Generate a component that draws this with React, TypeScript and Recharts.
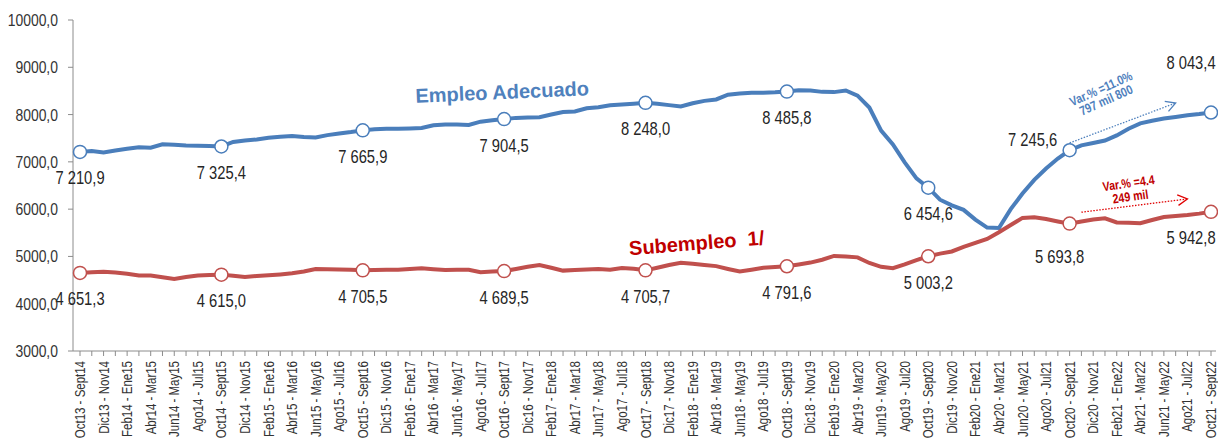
import React from 'react';
import { LineChart, Line, XAxis, YAxis, ReferenceDot, ReferenceLine } from 'recharts';

const periods: string[] = [
  'Oct13 - Sept14', 'Nov13 - Oct14', 'Dic13 - Nov14', 'Ene14 - Dic14', 'Feb14 - Ene15', 'Mar14 - Feb15', 'Abr14 - Mar15', 'May14 - Abr15', 'Jun14 - May15', 'Jul14 - Jun15', 'Ago14 - Jul15', 'Sept14 - Ago15',
  'Oct14 - Sept15', 'Nov14 - Oct15', 'Dic14 - Nov15', 'Ene15 - Dic15', 'Feb15 - Ene16', 'Mar15 - Feb16', 'Abr15 - Mar16', 'May15 - Abr16', 'Jun15 - May16', 'Jul15 - Jun16', 'Ago15 - Jul16', 'Sept15 - Ago16',
  'Oct15 - Sept16', 'Nov15 - Oct16', 'Dic15 - Nov16', 'Ene16 - Dic16', 'Feb16 - Ene17', 'Mar16 - Feb17', 'Abr16 - Mar17', 'May16 - Abr17', 'Jun16 - May17', 'Jul16 - Jun17', 'Ago16 - Jul17', 'Sept16 - Ago17',
  'Oct16 - Sept17', 'Nov16 - Oct17', 'Dic16 - Nov17', 'Ene17 - Dic17', 'Feb17 - Ene18', 'Mar17 - Feb18', 'Abr17 - Mar18', 'May17 - Abr18', 'Jun17 - May18', 'Jul17 - Jun18', 'Ago17 - Jul18', 'Sept17 - Ago18',
  'Oct17 - Sept18', 'Nov17 - Oct18', 'Dic17 - Nov18', 'Ene18 - Dic18', 'Feb18 - Ene19', 'Mar18 - Feb19', 'Abr18 - Mar19', 'May18 - Abr19', 'Jun18 - May19', 'Jul18 - Jun19', 'Ago18 - Jul19', 'Sept18 - Ago19',
  'Oct18 - Sept19', 'Nov18 - Oct19', 'Dic18 - Nov19', 'Ene19 - Dic19', 'Feb19 - Ene20', 'Mar19 - Feb20', 'Abr19 - Mar20', 'May19 - Abr20', 'Jun19 - May20', 'Jul19 - Jun20', 'Ago19 - Jul20', 'Sept19 - Ago20',
  'Oct19 - Sept20', 'Nov19 - Oct20', 'Dic19 - Nov20', 'Ene20 - Dic20', 'Feb20 - Ene21', 'Mar20 - Feb21', 'Abr20 - Mar21', 'May20 - Abr21', 'Jun20 - May21', 'Jul20 - Jun21', 'Ago20 - Jul21', 'Sept20 - Ago21',
  'Oct20 - Sept21', 'Nov20 - Oct21', 'Dic20 - Nov21', 'Ene21 - Dic21', 'Feb21 - Ene22', 'Mar21 - Feb22', 'Abr21 - Mar22', 'May21 - Abr22', 'Jun21 - May22', 'Jul21 - Jun22', 'Ago21 - Jul22', 'Sept21 - Ago22',
  'Oct21 - Sept22',
];

const empleoAdecuado: number[] = [
  7210.9, 7230, 7200, 7240, 7275, 7310, 7300, 7370, 7360, 7345, 7340, 7335,
  7325.4, 7420, 7450, 7475, 7510, 7530, 7545, 7525, 7515, 7565, 7600, 7630,
  7665.9, 7690, 7698, 7700, 7705, 7715, 7775, 7790, 7790, 7780, 7850, 7880,
  7904.5, 7930, 7937, 7943, 8000, 8052, 8065, 8133, 8155, 8195, 8215, 8230,
  8248.0, 8230, 8200, 8170, 8240, 8290, 8320, 8420, 8445, 8463, 8463, 8470,
  8485.8, 8515, 8510, 8480, 8475, 8510, 8400, 8150, 7660, 7370, 6990, 6650,
  6454.6, 6200, 6080, 5985, 5780, 5610, 5600, 6000, 6330, 6620, 6860, 7070,
  7245.6, 7350, 7400, 7450, 7560, 7700, 7815, 7870, 7915, 7950, 7985, 8010,
  8043.4,
];

const subempleo: number[] = [
  4651.3, 4665, 4678, 4660, 4635, 4598, 4595, 4560, 4525, 4565, 4595, 4605,
  4615.0, 4590, 4567, 4585, 4600, 4620, 4645, 4680, 4735, 4730, 4722, 4718,
  4705.5, 4712, 4717, 4720, 4735, 4748, 4730, 4715, 4718, 4720, 4668, 4680,
  4689.5, 4735, 4780, 4820, 4760, 4700, 4712, 4725, 4735, 4720, 4755, 4740,
  4705.7, 4760, 4820, 4868, 4845, 4820, 4795, 4735, 4680, 4720, 4762, 4778,
  4791.6, 4830, 4870, 4930, 5010, 5000, 4980, 4862, 4780, 4750, 4830, 4920,
  5003.2, 5060, 5105, 5200, 5285, 5370, 5510, 5665, 5815, 5830, 5790, 5740,
  5693.8, 5740, 5780, 5805, 5718, 5710, 5702, 5770, 5835, 5855, 5875, 5905,
  5942.8,
];

const yTicks: number[] = [3000, 4000, 5000, 6000, 7000, 8000, 9000, 10000];
const markerIndices: number[] = [0, 12, 24, 36, 48, 60, 72, 84, 96];

const seriesNames = { empleo: 'Empleo Adecuado', sub: 'Subempleo  1/' };
const blueNote = ['Var.% =11.0%', '797 mil 800'];
const redNote = ['Var.% =4.4', '249 mil'];

const data = periods.map((p, i) => ({ period: p, empleo: empleoAdecuado[i], sub: subempleo[i] }));

const ARIAL = "'Liberation Sans', Arial, sans-serif";
const NARROW_SCALE = 0.82;
const BLUE = '#4A7EBB';
const BLUE_TXT = '#4F81BD';
const RED = '#C0504D';
const RED_TXT = '#C00000';
const AXIS = '#8c8c8c';

const fmt = (v: number) => {
  const [i, d] = v.toFixed(1).split('.');
  return `${i.replace(/\B(?=(\d{3})+(?!\d))/g, ' ')},${d}`;
};

type NTProps = {
  x: number; y: number; angle?: number; anchor?: 'start' | 'middle' | 'end';
  size: number; fill: string; weight?: string; dy?: string | number; children: React.ReactNode;
};
const NarrowText = ({ x, y, angle = 0, anchor = 'middle', size, fill, weight = 'normal', dy, children }: NTProps) => (
  <g transform={`translate(${x}, ${y}) rotate(${angle}) scale(${NARROW_SCALE}, 1)`}>
    <text
      x={0}
      y={0}
      dy={dy}
      textAnchor={anchor}
      dominantBaseline={dy === undefined ? 'central' : undefined}
      fontSize={size}
      fontWeight={weight}
      fill={fill}
      fontFamily={ARIAL}
    >
      {children}
    </text>
  </g>
);

const XTick = (props: any) => {
  const { x, y, payload } = props;
  const idx = periods.indexOf(payload.value);
  if (idx % 2 !== 0) return <g />;
  return (
    <NarrowText x={x} y={y + 3} angle={-90} anchor="end" size={14} fill="#333" dy="0.36em">
      {payload.value}
    </NarrowText>
  );
};

const YTick = (props: any) => {
  const { x, y, payload } = props;
  return (
    <NarrowText x={x} y={y} anchor="end" size={17} fill="#333">
      {Number(payload.value).toFixed(1).replace('.', ',')}
    </NarrowText>
  );
};

const makeDot = (values: number[], color: string, offsets: Record<number, { dx: number; dy: number }>) =>
  (props: any) => {
    const { cx, cy, index } = props;
    if (!markerIndices.includes(index)) return <g key={`d-${index}`} />;
    const off = offsets[index] || { dx: 0, dy: 26 };
    return (
      <g key={`d-${index}`}>
        <circle cx={cx} cy={cy} r={6.5} fill="#fff" stroke={color} strokeWidth={1.5} />
        <NarrowText x={cx + off.dx} y={cy + off.dy} size={18} fill="#262626">
          {fmt(values[index])}
        </NarrowText>
      </g>
    );
  };

const blueDot = makeDot(empleoAdecuado, BLUE, { 84: { dx: -37, dy: -11 }, 96: { dx: -20, dy: -50 } });
const redDot = makeDot(subempleo, RED, { 84: { dx: -10, dy: 33 }, 96: { dx: -20, dy: 26 } });

const seriesLabel = (text: string, color: string, angle: number, dx: number) => (props: any) => {
  const x = props.cx + dx;
  const y = props.cy;
  return (
    <text
      x={x}
      y={y}
      transform={`rotate(${angle}, ${x}, ${y})`}
      textAnchor="middle"
      dominantBaseline="central"
      fill={color}
      fontSize={20}
      fontWeight="bold"
      fontFamily={ARIAL}
      style={{ whiteSpace: 'pre' }}
    >
      {text}
    </text>
  );
};

const noteLabel = (lines: string[], color: string, angle: number, dx: number, gap: number, size: number) =>
  (props: any) => {
    const x = props.cx + dx;
    const y = props.cy;
    return (
      <g transform={`translate(${x}, ${y}) rotate(${angle}) scale(${NARROW_SCALE}, 1)`}>
        {lines.map((l, k) => (
          <text
            key={k}
            x={0}
            y={(k - (lines.length - 1) / 2) * gap}
            textAnchor="middle"
            dominantBaseline="central"
            fill={color}
            fontSize={size}
            fontWeight="bold"
            fontFamily={ARIAL}
          >
            {l}
          </text>
        ))}
      </g>
    );
  };

const arrowShape = (color: string) => (props: any) => {
  const { x1, y1, x2, y2 } = props;
  const ang = Math.atan2(y2 - y1, x2 - x1);
  const L = 11;
  const a = 0.5;
  const p1 = `${x2 - L * Math.cos(ang - a)},${y2 - L * Math.sin(ang - a)}`;
  const p2 = `${x2 - L * Math.cos(ang + a)},${y2 - L * Math.sin(ang + a)}`;
  return (
    <g>
      <line x1={x1} y1={y1} x2={x2} y2={y2} stroke={color} strokeWidth={1.3} strokeDasharray="1.5 1.5" />
      <polyline points={`${p1} ${x2},${y2} ${p2}`} fill="none" stroke={color} strokeWidth={1.3} />
    </g>
  );
};

export default function App() {
  return (
    <div style={{ position: 'absolute', left: 0, top: 0, background: '#fff' }}>
      <LineChart width={1218} height={440} data={data} margin={{ top: 20, right: 2, bottom: 0, left: 8 }}>
        <XAxis
          dataKey="period"
          interval={0}
          tick={<XTick />}
          tickSize={5}
          tickLine={{ stroke: AXIS }}
          axisLine={{ stroke: AXIS }}
          padding={{ left: 7, right: 5 }}
          height={89}
        />
        <YAxis
          domain={[3000, 10000]}
          ticks={yTicks}
          allowDataOverflow
          width={65}
          tickSize={5}
          tickMargin={10}
          tickLine={{ stroke: AXIS }}
          axisLine={{ stroke: AXIS }}
          tick={<YTick />}
        />
        <Line
          type="linear"
          dataKey="empleo"
          stroke={BLUE}
          strokeWidth={4}
          dot={blueDot}
          activeDot={false}
          isAnimationActive={false}
        />
        <Line
          type="linear"
          dataKey="sub"
          stroke={RED}
          strokeWidth={4}
          dot={redDot}
          activeDot={false}
          isAnimationActive={false}
        />
        <ReferenceDot x={periods[36]} y={8478} shape={seriesLabel(seriesNames.empleo, BLUE_TXT, -2.5, -2)} />
        <ReferenceDot x={periods[52]} y={5286} shape={seriesLabel(seriesNames.sub, RED_TXT, -4.5, 4)} />
        <ReferenceDot x={periods[87]} y={8425} shape={noteLabel(blueNote, BLUE_TXT, -24, -1.4, 12.5, 13)} />
        <ReferenceDot x={periods[89]} y={6406} shape={noteLabel(redNote, RED_TXT, -8, 1, 13.5, 13)} />
        <ReferenceLine
          segment={[{ x: periods[84], y: 7400 }, { x: periods[93], y: 8245 }]}
          shape={arrowShape(BLUE_TXT)}
        />
        <ReferenceLine
          segment={[{ x: periods[85], y: 5935 }, { x: periods[94], y: 6216 }]}
          shape={arrowShape('#E00000')}
        />
      </LineChart>
    </div>
  );
}
